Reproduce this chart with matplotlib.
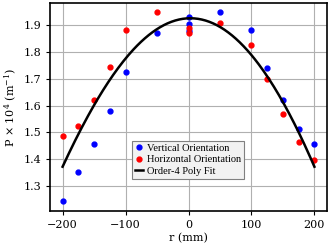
import numpy as np
import matplotlib
matplotlib.use("Agg")
import matplotlib.pyplot as plt

plt.rcParams['font.family'] = 'DejaVu Serif'
plt.rcParams['mathtext.fontset'] = 'dejavuserif'

# Measured points
r_vert = [-200, -175, -150, -125, -100, -50, 0, 0, 0, 50, 100, 125, 150, 175, 200]
p_vert = [1.243, 1.352, 1.456, 1.580, 1.724, 1.870, 1.929, 1.904, 1.876, 1.948, 1.880, 1.740, 1.620, 1.512, 1.458]

r_horz = [-200, -175, -150, -125, -100, -50, 0, 0, 50, 100, 125, 150, 175, 200]
p_horz = [1.488, 1.524, 1.620, 1.744, 1.880, 1.949, 1.888, 1.870, 1.909, 1.825, 1.699, 1.568, 1.463, 1.397]

# Order-4 fit curve, values at these radii
r_fit_pts = [-200, -100, 0, 100, 200]
p_fit_pts = [1.372, 1.775, 1.925, 1.788, 1.372]

coef = np.polyfit(np.array(r_fit_pts, float), np.array(p_fit_pts), 4)
r_fit = np.linspace(min(r_fit_pts), max(r_fit_pts), 200)
p_fit = np.polyval(coef, r_fit)

fig = plt.figure(figsize=(3.3, 2.48), dpi=100)
ax = fig.add_axes([50/330, 1-211/248, 277/330, 208/248])

ax.grid(True, color='#b0b0b0', linewidth=0.8, zorder=0)
ax.plot(r_vert, p_vert, 'o', color='blue', markersize=3.5, label='Vertical Orientation', zorder=3)
ax.plot(r_horz, p_horz, 'o', color='red', markersize=3.5, label='Horizontal Orientation', zorder=3)
ax.plot(r_fit, p_fit, '-', color='black', linewidth=1.8, label='Order-4 Poly Fit', zorder=4)

ax.set_xlim(-220, 220)
ax.set_ylim(1.207, 1.982)
ax.set_xticks([-200, -100, 0, 100, 200])
ax.set_yticks([1.3, 1.4, 1.5, 1.6, 1.7, 1.8, 1.9])
ax.tick_params(labelsize=8, length=3, width=0.8, direction='out')
for s in ax.spines.values():
    s.set_linewidth(1.2)

ax.set_xlabel('r (mm)', fontsize=8, labelpad=2)
ax.set_ylabel(r'P $\times$ 10$^4$ (m$^{-1}$)', fontsize=8, labelpad=3)

leg = ax.legend(loc='lower left', bbox_to_anchor=(0.296, 0.154), borderaxespad=0,
                fancybox=False, handlelength=0.8, handletextpad=0.3, borderpad=0.3,
                labelspacing=0.2, prop={'family': 'Liberation Serif', 'size': 7.5},
                facecolor='#f2f2f2', edgecolor='#808080', framealpha=1)
leg.get_frame().set_linewidth(0.8)

fig.savefig('out.png', dpi=100)
